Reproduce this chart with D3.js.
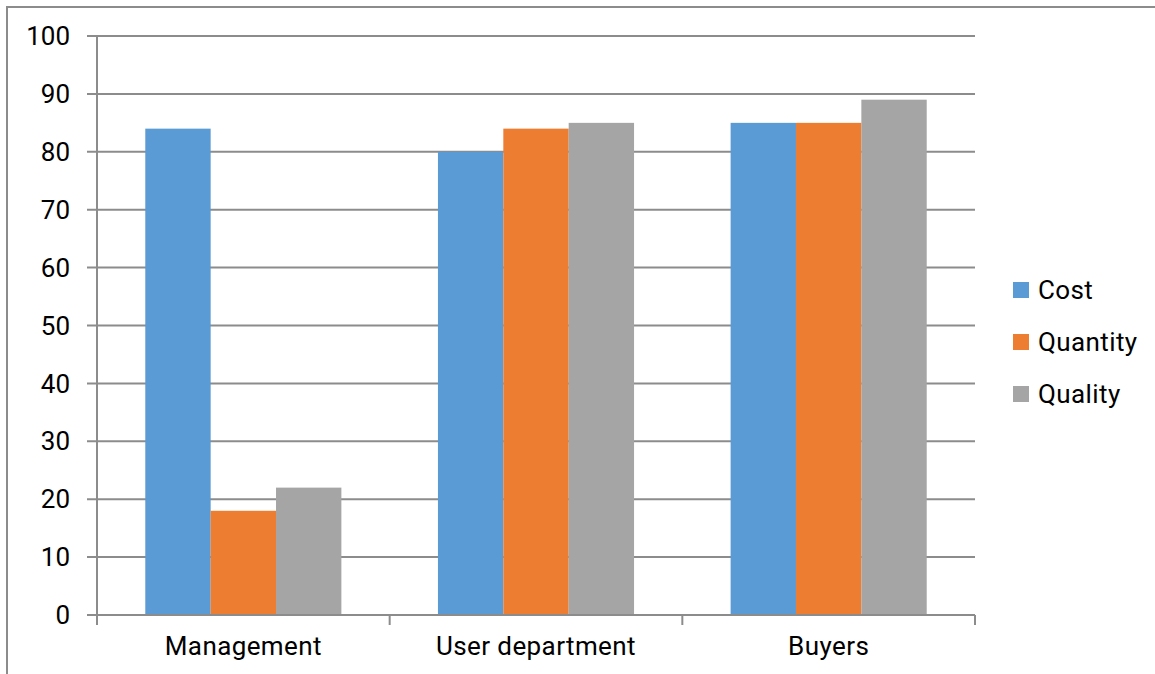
<!DOCTYPE html>
<html><head><meta charset="utf-8">
<script src="https://cdn.jsdelivr.net/npm/d3@7"></script>
<style>body{margin:0;background:#fff}svg{display:block}text{font-family:Roboto,"Noto Sans",sans-serif}</style>
</head><body>
<svg id="c" width="1155" height="674"></svg>
<script>
const categories = ["Management", "User department", "Buyers"];
const seriesNames = ["Cost", "Quantity", "Quality"];
const cost = [84, 80, 85];
const quantity = [18, 84, 85];
const quality = [22, 85, 89];
const yTicks = [0, 10, 20, 30, 40, 50, 60, 70, 80, 90, 100];
const colors = ["#5B9BD5", "#ED7D31", "#A5A5A5"];

(function () {
const seriesValues = [cost, quantity, quality];
const svg = d3.select("#c");
const gridColor = "#8c8c8c";
const fs = 26;

// outer border
svg.append("rect").attr("x", 7).attr("y", 7).attr("width", 1200).attr("height", 700)
  .attr("fill", "none").attr("stroke", "#8c8c8c").attr("stroke-width", 2);

const pLeft = 97, pRight = 975, pTop = 36, pBottom = 615;
const x = d3.scaleBand().domain(categories).range([pLeft, pRight]).paddingInner(0.33).paddingOuter(0.165);
const xOuter = d3.scaleBand().domain(categories).range([pLeft, pRight]);
const xs = d3.scaleBand().domain(seriesNames).range([0, x.bandwidth()]);
const y = d3.scaleLinear().domain([0, 100]).range([pBottom, pTop]);

// gridlines
svg.append("g").selectAll("line").data(yTicks).join("line")
  .attr("x1", pLeft - 10).attr("x2", pRight).attr("y1", d => y(d)).attr("y2", d => y(d))
  .attr("stroke", gridColor).attr("stroke-width", 2);

// y axis line
svg.append("line").attr("x1", pLeft).attr("x2", pLeft).attr("y1", pTop).attr("y2", pBottom + 10)
  .attr("stroke", gridColor).attr("stroke-width", 2);

// y tick labels
svg.append("g").selectAll("text").data(yTicks).join("text")
  .attr("x", 70).attr("y", d => y(d)).attr("dy", "0.35em").attr("text-anchor", "end")
  .attr("font-size", fs).attr("fill", "#000").text(d => d);

// bars
seriesNames.forEach((s, si) => {
  svg.append("g").selectAll("rect").data(categories).join("rect")
    .attr("x", c => x(c) + xs(s)).attr("width", xs.bandwidth())
    .attr("y", (c, i) => y(seriesValues[si][i]))
    .attr("height", (c, i) => y(0) - y(seriesValues[si][i]))
    .attr("fill", colors[si]);
});

// x axis line on top of bars
svg.append("line").attr("x1", pLeft - 10).attr("x2", pRight).attr("y1", pBottom).attr("y2", pBottom)
  .attr("stroke", gridColor).attr("stroke-width", 2);
// x ticks at band boundaries
const bounds = categories.map(c => xOuter(c)).concat([pRight]);
svg.append("g").selectAll("line").data(bounds).join("line")
  .attr("x1", d => d).attr("x2", d => d).attr("y1", pBottom).attr("y2", pBottom + 10)
  .attr("stroke", gridColor).attr("stroke-width", 2);

// x labels
svg.append("g").selectAll("text").data(categories).join("text")
  .attr("x", c => xOuter(c) + xOuter.bandwidth() / 2).attr("y", 655)
  .attr("text-anchor", "middle").attr("font-size", fs).attr("letter-spacing", 0.4)
  .attr("fill", "#000").text(c => c);

// legend
const lg = svg.append("g").selectAll("g").data(seriesNames).join("g")
  .attr("transform", (d, i) => `translate(1013, ${290 + i * 52})`);
lg.append("rect").attr("x", 0).attr("y", -8).attr("width", 16).attr("height", 16)
  .attr("fill", (d, i) => colors[i]);
lg.append("text").attr("x", 25).attr("y", 0).attr("dy", "0.35em")
  .attr("font-size", fs).attr("letter-spacing", 0.4).attr("fill", "#000").text(d => d);
})();
</script>
</body></html>
